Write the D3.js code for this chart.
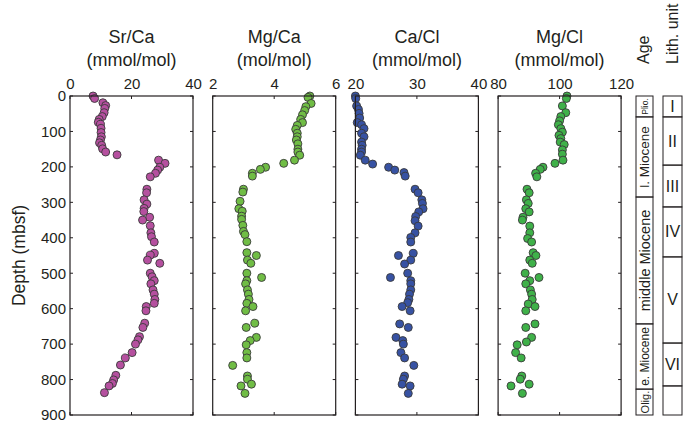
<!DOCTYPE html>
<html>
<head>
<meta charset="utf-8">
<script src="https://cdn.jsdelivr.net/npm/d3@7"></script>
<style>
  html, body { margin: 0; padding: 0; background: #fff; }
  svg { display: block; font-family: "Liberation Sans", Arial, Helvetica, sans-serif; }
</style>
</head>
<body>
<svg id="chart" width="683" height="422"></svg>
<script>
// Pore-water profiles versus depth (mbsf)
const depthTicks = [0, 100, 200, 300, 400, 500, 600, 700, 800, 900];

const srCaDepth = [0, 7, 19, 27, 35, 47, 58, 66, 74, 80, 91, 103, 115, 124, 132, 139, 149, 158, 166,
  181, 190, 201, 209, 218, 228, 263, 273, 293, 305, 317, 326, 342, 350, 366, 386, 397, 412,
  444, 449, 463, 472, 500, 510, 521, 530, 547, 559, 574, 585, 594, 606,
  641, 653, 679, 688, 700, 724, 739, 759, 788, 801, 811, 818, 837];
const srCaValue = [7.5, 8.0, 10.7, 11.6, 11.3, 11.1, 10.5, 9.5, 9.2, 9.9, 10.1, 10.1, 10.2, 9.9, 9.6, 10.3, 10.6, 11.6, 15.3,
  28.8, 30.9, 29.2, 28.5, 27.8, 26.1, 25.0, 24.9, 24.1, 25.0, 24.1, 24.0, 25.9, 23.6, 26.1, 26.3, 26.5, 27.4,
  27.4, 26.1, 25.2, 29.2, 26.1, 26.7, 27.4, 26.3, 27.0, 27.4, 27.6, 27.4, 24.8, 24.7,
  24.3, 23.7, 22.6, 22.1, 21.3, 20.2, 18.0, 16.4, 14.9, 14.2, 13.8, 12.7, 11.2];

const mgCaDepth = [0, 4, 21, 30, 41, 53, 66, 75, 83, 94, 105, 115, 124, 135, 150, 158, 167, 181, 190,
  201, 207, 218, 226, 263, 271, 297, 318, 325, 339, 348, 365, 382, 391, 411,
  442, 450, 463, 472, 500, 512, 521, 530, 547, 559, 574, 585, 594, 606,
  641, 653, 681, 690, 702, 724, 739, 760, 790, 799, 813, 818, 839];
const mgCaValue = [5.16, 5.10, 5.20, 5.03, 4.99, 4.92, 4.86, 4.92, 4.75, 4.70, 4.75, 4.75, 4.72, 4.77, 4.77, 4.77, 4.83, 4.66, 4.31,
  3.72, 3.55, 3.29, 3.29, 3.00, 2.98, 2.89, 2.85, 2.96, 2.94, 2.94, 2.98, 3.00, 3.05, 3.11,
  3.11, 3.42, 3.13, 3.24, 3.11, 3.59, 3.11, 3.07, 3.13, 3.16, 3.18, 3.11, 3.31, 3.07,
  3.37, 3.09, 3.42, 3.22, 3.09, 3.11, 3.11, 2.65, 3.13, 3.13, 3.26, 2.92, 3.05];

const caClDepth = [0, 7, 28, 38, 49, 62, 75, 81, 92, 105, 115, 130, 139, 150, 158, 167, 181, 192,
  201, 209, 216, 226, 263, 273, 293, 303, 318, 327, 340, 352, 367, 386, 399, 412,
  444, 450, 463, 474, 500, 512, 521, 530, 547, 559, 574, 583, 594, 606,
  643, 653, 681, 690, 700, 724, 739, 760, 790, 799, 813, 818, 839];
const caClValue = [20.0, 20.05, 20.2, 20.5, 20.6, 20.7, 20.3, 21.0, 21.4, 21.0, 21.4, 21.0, 21.1, 21.0, 21.0, 20.8, 21.6, 22.8,
  25.4, 26.4, 27.9, 28.1, 29.7, 30.2, 30.8, 30.9, 31.0, 30.3, 29.8, 29.7, 30.2, 29.7, 29.0, 29.0,
  29.4, 27.0, 29.0, 28.0, 28.5, 25.7, 29.0, 29.0, 29.0, 28.8, 28.7, 28.5, 27.6, 28.9,
  27.2, 28.6, 26.6, 27.7, 27.8, 27.4, 28.0, 29.5, 28.0, 27.8, 27.6, 28.9, 28.6];

const mgClDepth = [0, 7, 28, 47, 58, 70, 81, 92, 102, 111, 120, 130, 137, 152, 164, 181, 190,
  201, 207, 218, 228, 263, 273, 293, 303, 318, 327, 342, 350, 367, 386, 402, 412,
  442, 450, 463, 472, 500, 512, 521, 530, 547, 559, 574, 587, 594, 606,
  643, 653, 681, 694, 702, 724, 739, 790, 799, 813, 818, 839];
const mgClValue = [102.4, 102.2, 100.9, 102.0, 100.4, 100.0, 99.6, 100.4, 100.9, 99.8, 100.4, 100.2, 101.5, 100.9, 100.9, 101.1, 98.5,
  94.6, 93.7, 92.2, 92.6, 89.4, 90.1, 89.2, 89.8, 89.0, 90.1, 88.1, 87.9, 90.3, 90.3, 89.6, 90.9,
  91.4, 92.3, 90.3, 91.1, 88.8, 93.3, 90.3, 89.0, 90.5, 90.9, 91.1, 89.8, 92.0, 89.0,
  92.0, 89.0, 90.9, 89.2, 86.2, 85.7, 87.5, 87.7, 87.2, 90.1, 84.2, 87.9];

const titles = ["Sr/Ca", "Mg/Ca", "Ca/Cl", "Mg/Cl"];
const units = ["(mmol/mol)", "(mol/mol)", "(mmol/mol)", "(mmol/mol)"];
const xDomains = [[0, 40], [2, 6], [20, 40], [80, 120]];
const xTicks = [[0, 20, 40], [2, 4, 6], [20, 30, 40], [80, 100, 120]];
const fills = ["#b5509f", "#70bd45", "#3752a3", "#3fb149"];

// Stratigraphic columns (depth boundaries in mbsf)
const ageNames = ["Plio.", "l. Miocene", "middle Miocene", "e. Miocene", "Olig."];
const ageTops = [0, 59, 285, 643, 827];
const ageBases = [59, 285, 643, 827, 900];
const lithNames = ["I", "II", "III", "IV", "V", "VI", ""];
const lithTops = [0, 59, 195, 313, 454, 697, 818];
const lithBases = [59, 195, 313, 454, 697, 818, 900];

const series = [
  { d: srCaDepth, v: srCaValue },
  { d: mgCaDepth, v: mgCaValue },
  { d: caClDepth, v: caClValue },
  { d: mgClDepth, v: mgClValue }
];

const svg = d3.select("#chart");
const plotTop = 96, plotBottom = 415;
const panelW = 123, panelStep = 142.7, firstLeft = 70;
const ink = "#231f20";
const tickFont = 15;

const y = d3.scaleLinear().domain([0, 900]).range([plotTop, plotBottom]);

// Depth axis
const yAxis = svg.append("g").attr("transform", `translate(${firstLeft},0)`)
  .call(d3.axisLeft(y).tickValues(depthTicks).tickFormat(d3.format("d")).tickSize(0).tickPadding(4));
yAxis.select(".domain").remove();
yAxis.selectAll("text").attr("font-size", tickFont).attr("fill", ink)
  .attr("font-family", '"Liberation Sans", Arial, sans-serif');

svg.append("text")
  .attr("transform", `translate(25,${(plotTop + plotBottom) / 2}) rotate(-90)`)
  .attr("text-anchor", "middle")
  .attr("font-size", 17.5).attr("fill", ink)
  .text("Depth (mbsf)");

series.forEach((s, i) => {
  const left = firstLeft + i * panelStep;
  const x = d3.scaleLinear().domain(xDomains[i]).range([left, left + panelW]);
  const g = svg.append("g");

  // top axis labels
  const xa = g.append("g").attr("transform", `translate(0,${plotTop})`)
    .call(d3.axisTop(x).tickValues(xTicks[i]).tickFormat(d3.format("d")).tickSize(0).tickPadding(7));
  xa.select(".domain").remove();
  xa.selectAll("text").attr("font-size", tickFont).attr("fill", ink)
    .attr("font-family", '"Liberation Sans", Arial, sans-serif');

  // inward tick marks on all sides
  const tl = 3;
  depthTicks.forEach(t => {
    g.append("line").attr("x1", left).attr("x2", left + tl).attr("y1", y(t)).attr("y2", y(t))
      .attr("stroke", ink).attr("stroke-width", 1);
    g.append("line").attr("x1", left + panelW - tl).attr("x2", left + panelW).attr("y1", y(t)).attr("y2", y(t))
      .attr("stroke", ink).attr("stroke-width", 1);
  });
  xTicks[i].forEach(t => {
    g.append("line").attr("x1", x(t)).attr("x2", x(t)).attr("y1", plotTop).attr("y2", plotTop + tl)
      .attr("stroke", ink).attr("stroke-width", 1);
    g.append("line").attr("x1", x(t)).attr("x2", x(t)).attr("y1", plotBottom - tl).attr("y2", plotBottom)
      .attr("stroke", ink).attr("stroke-width", 1);
  });

  // titles
  g.append("text").attr("x", left + panelW / 2).attr("y", 43)
    .attr("text-anchor", "middle").attr("font-size", 18).attr("fill", ink).text(titles[i]);
  g.append("text").attr("x", left + panelW / 2).attr("y", 66)
    .attr("text-anchor", "middle").attr("font-size", 18).attr("fill", ink).text(units[i]);

  // data points
  g.selectAll("circle").data(s.d.map((d, k) => ({ d, v: s.v[k] })))
    .join("circle")
    .attr("cx", p => x(p.v)).attr("cy", p => y(p.d)).attr("r", 4)
    .attr("fill", fills[i]).attr("stroke", "#3a3a3a").attr("stroke-width", 0.9);

  // frame
  g.append("rect").attr("x", left).attr("y", plotTop).attr("width", panelW).attr("height", plotBottom - plotTop)
    .attr("fill", "none").attr("stroke", ink).attr("stroke-width", 1.2);
});

// Age column
const ageX = 636, ageW = 17;
const age = svg.append("g");
const ageFont = [8.5, 13.5, 14.5, 12, 11];
ageNames.forEach((n, i) => {
  age.append("rect").attr("x", ageX).attr("y", y(ageTops[i]))
    .attr("width", ageW).attr("height", y(ageBases[i]) - y(ageTops[i]))
    .attr("fill", "none").attr("stroke", ink).attr("stroke-width", 1);
  const cy = (y(ageTops[i]) + y(ageBases[i])) / 2;
  age.append("text")
    .attr("transform", `translate(${ageX + ageW / 2},${cy}) rotate(-90)`)
    .attr("text-anchor", "middle").attr("dominant-baseline", "central")
    .attr("font-size", ageFont[i]).attr("fill", ink).text(n);
});
svg.append("text")
  .attr("transform", `translate(${ageX + ageW / 2 + 4},64) rotate(-90)`)
  .attr("font-size", 16).attr("fill", ink).text("Age");

// Lithologic unit column
const lithX = 663, lithW = 19;
const lith = svg.append("g");
lithNames.forEach((n, i) => {
  lith.append("rect").attr("x", lithX).attr("y", y(lithTops[i]))
    .attr("width", lithW).attr("height", y(lithBases[i]) - y(lithTops[i]))
    .attr("fill", "none").attr("stroke", ink).attr("stroke-width", 1);
  const cy = (y(lithTops[i]) + y(lithBases[i])) / 2;
  lith.append("text").attr("x", lithX + lithW / 2).attr("y", cy)
    .attr("text-anchor", "middle").attr("dominant-baseline", "central")
    .attr("font-size", 16).attr("fill", ink).text(n);
});
svg.append("text")
  .attr("transform", `translate(${lithX + lithW / 2 + 5},64) rotate(-90)`)
  .attr("font-size", 16).attr("fill", ink).text("Lith. unit");
</script>
</body>
</html>
